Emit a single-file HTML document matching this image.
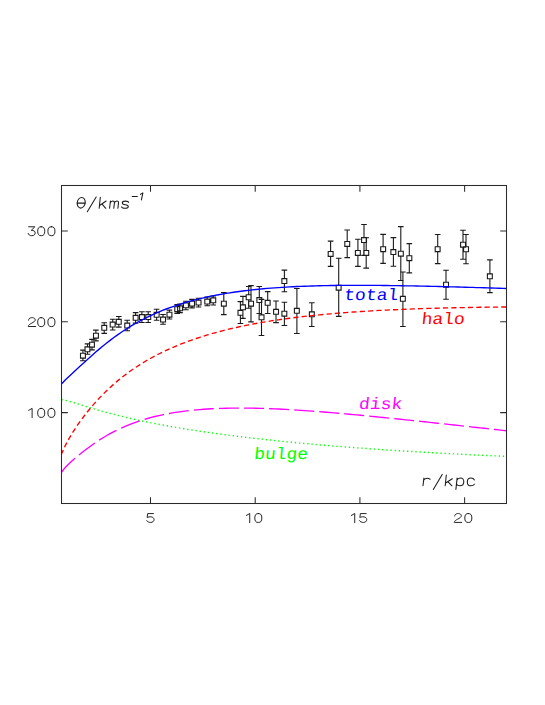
<!DOCTYPE html>
<html><head><meta charset="utf-8"><title>Rotation curve</title>
<style>
html,body{margin:0;padding:0;background:#fff}
body{width:545px;height:705px;overflow:hidden;font-family:"Liberation Sans",sans-serif}
svg{display:block}
.lb{font-family:"Liberation Mono",monospace;font-size:16.5px;stroke-width:0}
</style></head><body>
<svg width="545" height="705" viewBox="0 0 545 705">
<rect width="545" height="705" fill="#fff"/>
<defs><clipPath id="c"><rect x="61.5" y="185.5" width="445" height="318"/></clipPath></defs>
<g fill="none" stroke="#1a1a1a" stroke-width="1.1">
<path d="M82.9,350.1V353.2M82.9,358.1V360.7M80.1,350.1h5.6M80.1,360.7h5.6M80.5,353.2h4.9v4.9h-4.9zM87.5,343.9V346.9M87.5,351.8V354.3M84.7,343.9h5.6M84.7,354.3h5.6M85.0,346.9h4.9v4.9h-4.9zM92.0,339.4V342.2M92.0,347.1V349.9M89.2,339.4h5.6M89.2,349.9h5.6M89.5,342.2h4.9v4.9h-4.9zM95.9,330.1V333.2M95.9,338.1V340.9M93.1,330.1h5.6M93.1,340.9h5.6M93.5,333.2h4.9v4.9h-4.9zM104.2,322.8V325.4M104.2,330.3V333.4M101.4,322.8h5.6M101.4,333.4h5.6M101.8,325.4h4.9v4.9h-4.9zM112.7,319.2V322.1M112.7,326.9V330.0M109.9,319.2h5.6M109.9,330.0h5.6M110.2,322.1h4.9v4.9h-4.9zM118.8,316.5V319.4M118.8,324.2V327.1M116.0,316.5h5.6M116.0,327.1h5.6M116.3,319.4h4.9v4.9h-4.9zM127.2,320.3V323.1M127.2,327.9V330.8M124.4,320.3h5.6M124.4,330.8h5.6M124.8,323.1h4.9v4.9h-4.9zM135.6,312.6V315.4M135.6,320.3V323.1M132.8,312.6h5.6M132.8,323.1h5.6M133.2,315.4h4.9v4.9h-4.9zM141.9,311.7V314.6M141.9,319.4V322.5M139.1,311.7h5.6M139.1,322.5h5.6M139.5,314.6h4.9v4.9h-4.9zM148.2,311.7V314.6M148.2,319.4V322.5M145.4,311.7h5.6M145.4,322.5h5.6M145.8,314.6h4.9v4.9h-4.9zM156.6,309.2V312.4M156.6,317.3V320.3M153.8,309.2h5.6M153.8,320.3h5.6M154.2,312.4h4.9v4.9h-4.9zM163.0,314.5V317.1M163.0,321.9V324.3M160.2,314.5h5.6M160.2,324.3h5.6M160.6,317.1h4.9v4.9h-4.9zM169.4,310.1V312.2M169.4,317.1V319.0M166.6,310.1h5.6M166.6,319.0h5.6M167.0,312.2h4.9v4.9h-4.9zM177.2,304.6V306.7M177.2,311.6V313.4M174.4,304.6h5.6M174.4,313.4h5.6M174.8,306.7h4.9v4.9h-4.9zM180.0,304.0V305.9M180.0,310.8V312.6M177.2,304.0h5.6M177.2,312.6h5.6M177.6,305.9h4.9v4.9h-4.9zM185.9,301.3V302.9M185.9,307.8V309.8M183.1,301.3h5.6M183.1,309.8h5.6M183.5,302.9h4.9v4.9h-4.9zM192.0,299.4V301.2M192.0,306.1V307.9M189.2,299.4h5.6M189.2,307.9h5.6M189.6,301.2h4.9v4.9h-4.9zM198.5,298.2V300.1M198.5,304.9V307.0M195.7,298.2h5.6M195.7,307.0h5.6M196.1,300.1h4.9v4.9h-4.9zM207.2,297.0V299.1M207.2,303.9V305.8M204.4,297.0h5.6M204.4,305.8h5.6M204.8,299.1h4.9v4.9h-4.9zM213.2,296.0V297.9M213.2,302.8V305.0M210.4,296.0h5.6M210.4,305.0h5.6M210.8,297.9h4.9v4.9h-4.9zM223.8,292.6V301.2M223.8,306.1V314.6M221.0,292.6h5.6M221.0,314.6h5.6M221.4,301.2h4.9v4.9h-4.9zM240.4,301.6V310.4M240.4,315.2V323.5M237.6,301.6h5.6M237.6,323.5h5.6M238.0,310.4h4.9v4.9h-4.9zM242.9,296.4V304.9M242.9,309.8V318.4M240.1,296.4h5.6M240.1,318.4h5.6M240.5,304.9h4.9v4.9h-4.9zM248.7,286.5V294.8M248.7,299.6V308.2M245.9,286.5h5.6M245.9,308.2h5.6M246.2,294.8h4.9v4.9h-4.9zM251.0,285.6V301.2M251.0,306.1V321.9M248.2,285.6h5.6M248.2,321.9h5.6M248.6,301.2h4.9v4.9h-4.9zM259.3,286.5V297.6M259.3,302.4V313.5M256.5,286.5h5.6M256.5,313.5h5.6M256.9,297.6h4.9v4.9h-4.9zM261.5,299.4V314.9M261.5,319.8V335.5M258.7,299.4h5.6M258.7,335.5h5.6M259.1,314.9h4.9v4.9h-4.9zM267.7,291.6V300.4M267.7,305.2V313.5M264.9,291.6h5.6M264.9,313.5h5.6M265.2,300.4h4.9v4.9h-4.9zM276.0,301.0V309.4M276.0,314.2V322.6M273.2,301.0h5.6M273.2,322.6h5.6M273.6,309.4h4.9v4.9h-4.9zM284.4,302.3V311.2M284.4,316.1V325.5M281.6,302.3h5.6M281.6,325.5h5.6M281.9,311.2h4.9v4.9h-4.9zM284.4,270.1V278.6M284.4,283.4V291.7M281.6,270.1h5.6M281.6,291.7h5.6M281.9,278.6h4.9v4.9h-4.9zM296.9,288.5V308.4M296.9,313.2V333.5M294.1,288.5h5.6M294.1,333.5h5.6M294.4,308.4h4.9v4.9h-4.9zM311.8,302.7V311.9M311.8,316.8V326.5M309.0,302.7h5.6M309.0,326.5h5.6M309.4,311.9h4.9v4.9h-4.9zM338.7,258.2V285.2M338.7,290.1V316.4M335.9,258.2h5.6M335.9,316.4h5.6M336.2,285.2h4.9v4.9h-4.9zM330.6,241.1V251.5M330.6,256.4V266.4M327.8,241.1h5.6M327.8,266.4h5.6M328.2,251.5h4.9v4.9h-4.9zM347.2,230.0V241.5M347.2,246.3V257.6M344.4,230.0h5.6M344.4,257.6h5.6M344.8,241.5h4.9v4.9h-4.9zM357.9,239.2V250.5M357.9,255.3V266.4M355.1,239.2h5.6M355.1,266.4h5.6M355.4,250.5h4.9v4.9h-4.9zM364.0,224.5V237.6M364.0,242.4V255.4M361.2,224.5h5.6M361.2,255.4h5.6M361.6,237.6h4.9v4.9h-4.9zM366.2,237.8V250.5M366.2,255.3V268.1M363.4,237.8h5.6M363.4,268.1h5.6M363.8,250.5h4.9v4.9h-4.9zM383.1,234.4V246.7M383.1,251.5V263.4M380.3,234.4h5.6M380.3,263.4h5.6M380.7,246.7h4.9v4.9h-4.9zM393.4,237.6V249.6M393.4,254.4V266.3M390.6,237.6h5.6M390.6,266.3h5.6M390.9,249.6h4.9v4.9h-4.9zM400.8,226.6V251.2M400.8,256.1V280.5M398.0,226.6h5.6M398.0,280.5h5.6M398.4,251.2h4.9v4.9h-4.9zM409.3,243.6V255.7M409.3,260.6V272.9M406.5,243.6h5.6M406.5,272.9h5.6M406.9,255.7h4.9v4.9h-4.9zM402.9,272.0V296.4M402.9,301.3V326.5M400.1,272.0h5.6M400.1,326.5h5.6M400.4,296.4h4.9v4.9h-4.9zM437.7,234.5V246.7M437.7,251.5V263.6M434.9,234.5h5.6M434.9,263.6h5.6M435.2,246.7h4.9v4.9h-4.9zM446.0,270.2V282.2M446.0,287.1V299.2M443.2,270.2h5.6M443.2,299.2h5.6M443.6,282.2h4.9v4.9h-4.9zM463.0,230.2V242.2M463.0,247.1V259.3M460.2,230.2h5.6M460.2,259.3h5.6M460.6,242.2h4.9v4.9h-4.9zM466.0,234.5V246.8M466.0,251.6V263.7M463.2,234.5h5.6M463.2,263.7h5.6M463.6,246.8h4.9v4.9h-4.9zM489.9,259.9V273.9M489.9,278.8V292.6M487.1,259.9h5.6M487.1,292.6h5.6M487.4,273.9h4.9v4.9h-4.9z"/>
</g>
<g clip-path="url(#c)" fill="none" stroke-width="1.35">
<path d="M61.50,399.66 L65.24,400.29 L68.98,401.24 L72.72,402.33 L76.46,403.49 L80.20,404.67 L83.94,405.85 L87.68,407.01 L91.42,408.15 L95.16,409.26 L98.89,410.34 L102.63,411.40 L106.37,412.42 L110.11,413.42 L113.85,414.39 L117.59,415.34 L121.33,416.26 L125.07,417.16 L128.81,418.03 L132.55,418.88 L136.29,419.71 L140.03,420.51 L143.77,421.30 L147.51,422.07 L151.25,422.82 L154.99,423.55 L158.73,424.27 L162.47,424.97 L166.21,425.65 L169.95,426.32 L173.68,426.98 L177.42,427.62 L181.16,428.24 L184.90,428.86 L188.64,429.46 L192.38,430.04 L196.12,430.62 L199.86,431.19 L203.60,431.74 L207.34,432.28 L211.08,432.82 L214.82,433.34 L218.56,433.85 L222.30,434.36 L226.04,434.85 L229.78,435.34 L233.52,435.81 L237.26,436.28 L241.00,436.74 L244.74,437.19 L248.47,437.64 L252.21,438.07 L255.95,438.50 L259.69,438.92 L263.43,439.34 L267.17,439.75 L270.91,440.15 L274.65,440.54 L278.39,440.93 L282.13,441.31 L285.87,441.69 L289.61,442.06 L293.35,442.42 L297.09,442.78 L300.83,443.13 L304.57,443.48 L308.31,443.82 L312.05,444.16 L315.79,444.49 L319.53,444.81 L323.26,445.14 L327.00,445.45 L330.74,445.77 L334.48,446.07 L338.22,446.38 L341.96,446.67 L345.70,446.97 L349.44,447.26 L353.18,447.54 L356.92,447.82 L360.66,448.10 L364.40,448.38 L368.14,448.64 L371.88,448.91 L375.62,449.17 L379.36,449.43 L383.10,449.69 L386.84,449.94 L390.58,450.18 L394.32,450.43 L398.05,450.67 L401.79,450.91 L405.53,451.14 L409.27,451.37 L413.01,451.60 L416.75,451.82 L420.49,452.04 L424.23,452.26 L427.97,452.48 L431.71,452.69 L435.45,452.90 L439.19,453.11 L442.93,453.31 L446.67,453.51 L450.41,453.71 L454.15,453.91 L457.89,454.10 L461.63,454.29 L465.37,454.48 L469.11,454.67 L472.84,454.85 L476.58,455.03 L480.32,455.21 L484.06,455.38 L487.80,455.56 L491.54,455.73 L495.28,455.90 L499.02,456.06 L502.76,456.23 L506.50,456.39" stroke="#00ff00" stroke-width="1.4" stroke-dasharray="1.3 2.87" stroke-dashoffset="4.15"/>
<path d="M61.50,472.27 L65.24,467.46 L68.98,463.69 L72.72,460.30 L76.46,457.09 L80.20,454.00 L83.94,451.03 L87.68,448.17 L91.42,445.43 L95.16,442.82 L98.89,440.33 L102.63,437.98 L106.37,435.75 L110.11,433.65 L113.85,431.66 L117.59,429.79 L121.33,428.04 L125.07,426.39 L128.81,424.85 L132.55,423.40 L136.29,422.05 L140.03,420.78 L143.77,419.60 L147.51,418.50 L151.25,417.47 L154.99,416.52 L158.73,415.64 L162.47,414.82 L166.21,414.06 L169.95,413.36 L173.68,412.71 L177.42,412.12 L181.16,411.58 L184.90,411.09 L188.64,410.64 L192.38,410.24 L196.12,409.87 L199.86,409.55 L203.60,409.26 L207.34,409.00 L211.08,408.78 L214.82,408.60 L218.56,408.44 L222.30,408.31 L226.04,408.21 L229.78,408.13 L233.52,408.08 L237.26,408.05 L241.00,408.05 L244.74,408.07 L248.47,408.11 L252.21,408.16 L255.95,408.24 L259.69,408.33 L263.43,408.44 L267.17,408.57 L270.91,408.71 L274.65,408.87 L278.39,409.04 L282.13,409.22 L285.87,409.42 L289.61,409.63 L293.35,409.85 L297.09,410.08 L300.83,410.32 L304.57,410.58 L308.31,410.84 L312.05,411.11 L315.79,411.39 L319.53,411.68 L323.26,411.97 L327.00,412.27 L330.74,412.58 L334.48,412.90 L338.22,413.22 L341.96,413.55 L345.70,413.88 L349.44,414.22 L353.18,414.57 L356.92,414.92 L360.66,415.27 L364.40,415.63 L368.14,415.99 L371.88,416.36 L375.62,416.73 L379.36,417.10 L383.10,417.48 L386.84,417.86 L390.58,418.24 L394.32,418.63 L398.05,419.01 L401.79,419.40 L405.53,419.80 L409.27,420.19 L413.01,420.59 L416.75,420.98 L420.49,421.38 L424.23,421.78 L427.97,422.18 L431.71,422.59 L435.45,422.99 L439.19,423.39 L442.93,423.80 L446.67,424.20 L450.41,424.61 L454.15,425.02 L457.89,425.42 L461.63,425.83 L465.37,426.24 L469.11,426.65 L472.84,427.05 L476.58,427.46 L480.32,427.87 L484.06,428.28 L487.80,428.68 L491.54,429.09 L495.28,429.49 L499.02,429.90 L502.76,430.31 L506.50,430.71" stroke="#ff00ff" stroke-dasharray="20 5.1" stroke-dashoffset="0.53"/>
<path d="M61.50,454.05 L65.24,445.59 L68.98,438.61 L72.72,432.40 L76.46,426.67 L80.20,421.31 L83.94,416.26 L87.68,411.48 L91.42,406.94 L95.16,402.64 L98.89,398.55 L102.63,394.66 L106.37,390.96 L110.11,387.44 L113.85,384.09 L117.59,380.89 L121.33,377.85 L125.07,374.95 L128.81,372.18 L132.55,369.53 L136.29,367.01 L140.03,364.59 L143.77,362.28 L147.51,360.08 L151.25,357.97 L154.99,355.94 L158.73,354.01 L162.47,352.15 L166.21,350.37 L169.95,348.67 L173.68,347.03 L177.42,345.46 L181.16,343.95 L184.90,342.51 L188.64,341.12 L192.38,339.78 L196.12,338.50 L199.86,337.27 L203.60,336.08 L207.34,334.94 L211.08,333.85 L214.82,332.79 L218.56,331.78 L222.30,330.80 L226.04,329.86 L229.78,328.95 L233.52,328.08 L237.26,327.24 L241.00,326.43 L244.74,325.65 L248.47,324.90 L252.21,324.18 L255.95,323.48 L259.69,322.81 L263.43,322.16 L267.17,321.54 L270.91,320.94 L274.65,320.36 L278.39,319.80 L282.13,319.26 L285.87,318.74 L289.61,318.24 L293.35,317.76 L297.09,317.29 L300.83,316.85 L304.57,316.41 L308.31,316.00 L312.05,315.60 L315.79,315.21 L319.53,314.84 L323.26,314.48 L327.00,314.13 L330.74,313.80 L334.48,313.48 L338.22,313.17 L341.96,312.87 L345.70,312.58 L349.44,312.31 L353.18,312.04 L356.92,311.79 L360.66,311.54 L364.40,311.30 L368.14,311.08 L371.88,310.86 L375.62,310.65 L379.36,310.44 L383.10,310.25 L386.84,310.06 L390.58,309.88 L394.32,309.71 L398.05,309.55 L401.79,309.39 L405.53,309.24 L409.27,309.09 L413.01,308.95 L416.75,308.82 L420.49,308.69 L424.23,308.57 L427.97,308.45 L431.71,308.34 L435.45,308.23 L439.19,308.13 L442.93,308.04 L446.67,307.94 L450.41,307.85 L454.15,307.77 L457.89,307.69 L461.63,307.62 L465.37,307.54 L469.11,307.48 L472.84,307.41 L476.58,307.35 L480.32,307.29 L484.06,307.24 L487.80,307.19 L491.54,307.14 L495.28,307.10 L499.02,307.06 L502.76,307.02 L506.50,306.98" stroke="#ff0000" stroke-dasharray="5.2 3.13" stroke-dashoffset="0.85"/>
<path d="M61.50,383.96 L65.24,379.97 L68.98,376.41 L72.72,372.96 L76.46,369.52 L80.20,366.08 L83.94,362.64 L87.68,359.24 L91.42,355.88 L95.16,352.59 L98.89,349.38 L102.63,346.27 L106.37,343.25 L110.11,340.35 L113.85,337.55 L117.59,334.85 L121.33,332.27 L125.07,329.80 L128.81,327.44 L132.55,325.18 L136.29,323.02 L140.03,320.95 L143.77,318.99 L147.51,317.12 L151.25,315.33 L154.99,313.63 L158.73,312.01 L162.47,310.47 L166.21,309.00 L169.95,307.61 L173.68,306.28 L177.42,305.02 L181.16,303.82 L184.90,302.68 L188.64,301.60 L192.38,300.57 L196.12,299.60 L199.86,298.67 L203.60,297.80 L207.34,296.96 L211.08,296.18 L214.82,295.43 L218.56,294.72 L222.30,294.05 L226.04,293.42 L229.78,292.82 L233.52,292.26 L237.26,291.73 L241.00,291.22 L244.74,290.75 L248.47,290.30 L252.21,289.88 L255.95,289.49 L259.69,289.12 L263.43,288.77 L267.17,288.45 L270.91,288.14 L274.65,287.86 L278.39,287.60 L282.13,287.35 L285.87,287.12 L289.61,286.91 L293.35,286.72 L297.09,286.54 L300.83,286.38 L304.57,286.23 L308.31,286.09 L312.05,285.97 L315.79,285.86 L319.53,285.76 L323.26,285.67 L327.00,285.60 L330.74,285.53 L334.48,285.47 L338.22,285.43 L341.96,285.39 L345.70,285.36 L349.44,285.34 L353.18,285.33 L356.92,285.32 L360.66,285.32 L364.40,285.33 L368.14,285.35 L371.88,285.37 L375.62,285.40 L379.36,285.43 L383.10,285.47 L386.84,285.51 L390.58,285.56 L394.32,285.61 L398.05,285.67 L401.79,285.73 L405.53,285.80 L409.27,285.87 L413.01,285.94 L416.75,286.02 L420.49,286.10 L424.23,286.18 L427.97,286.27 L431.71,286.35 L435.45,286.44 L439.19,286.54 L442.93,286.63 L446.67,286.73 L450.41,286.83 L454.15,286.93 L457.89,287.03 L461.63,287.14 L465.37,287.24 L469.11,287.35 L472.84,287.45 L476.58,287.56 L480.32,287.67 L484.06,287.78 L487.80,287.90 L491.54,288.01 L495.28,288.12 L499.02,288.23 L502.76,288.35 L506.50,288.46" stroke="#0000ff"/>
</g>
<g fill="none" stroke="#2b2b2b" stroke-width="1.05">
<rect x="61.5" y="185.5" width="445" height="318"/>
<path d="M150.50,503.5v-6.3M150.50,185.5v6.3M255.21,503.5v-6.3M255.21,185.5v6.3M359.91,503.5v-6.3M359.91,185.5v6.3M464.62,503.5v-6.3M464.62,185.5v6.3M61.5,412.64h6.3M506.5,412.64h-6.3M61.5,321.79h6.3M506.5,321.79h-6.3M61.5,230.93h6.3M506.5,230.93h-6.3"/>
</g>
<g fill="none" stroke="#1a1a1a" stroke-width="1" stroke-linecap="round" stroke-linejoin="round">
<path transform="translate(27.9,226.5) scale(0.98,0.94)" d="M0.7,0.3H7.1L3.4,4.1C8.6,3.6 8.8,9.8 3.9,9.8C1.7,9.8 0.6,8.7 0.3,7.4"/>
<path transform="translate(37.3,226.5) scale(0.98,0.94)" d="M4,0.2C1.4,0.2 0.4,1.8 0.4,5C0.4,8.2 1.4,9.8 4,9.8C6.6,9.8 7.6,8.2 7.6,5C7.6,1.8 6.6,0.2 4,0.2z"/>
<path transform="translate(47.5,226.5) scale(0.98,0.94)" d="M4,0.2C1.4,0.2 0.4,1.8 0.4,5C0.4,8.2 1.4,9.8 4,9.8C6.6,9.8 7.6,8.2 7.6,5C7.6,1.8 6.6,0.2 4,0.2z"/>
<path transform="translate(27.9,317.4) scale(0.98,0.94)" d="M0.6,2.9C0.6,-0.7 7.5,-0.7 7.5,2.7C7.5,5.6 0.3,6.6 0.3,9.7H7.9"/>
<path transform="translate(37.3,317.4) scale(0.98,0.94)" d="M4,0.2C1.4,0.2 0.4,1.8 0.4,5C0.4,8.2 1.4,9.8 4,9.8C6.6,9.8 7.6,8.2 7.6,5C7.6,1.8 6.6,0.2 4,0.2z"/>
<path transform="translate(47.5,317.4) scale(0.98,0.94)" d="M4,0.2C1.4,0.2 0.4,1.8 0.4,5C0.4,8.2 1.4,9.8 4,9.8C6.6,9.8 7.6,8.2 7.6,5C7.6,1.8 6.6,0.2 4,0.2z"/>
<path transform="translate(28.3,408.2) scale(0.98,0.94)" d="M0.4,2.3L3.9,0.2V10"/>
<path transform="translate(37.3,408.2) scale(0.98,0.94)" d="M4,0.2C1.4,0.2 0.4,1.8 0.4,5C0.4,8.2 1.4,9.8 4,9.8C6.6,9.8 7.6,8.2 7.6,5C7.6,1.8 6.6,0.2 4,0.2z"/>
<path transform="translate(47.5,408.2) scale(0.98,0.94)" d="M4,0.2C1.4,0.2 0.4,1.8 0.4,5C0.4,8.2 1.4,9.8 4,9.8C6.6,9.8 7.6,8.2 7.6,5C7.6,1.8 6.6,0.2 4,0.2z"/>
<path transform="translate(146.4,513.3) scale(0.98,0.94)" d="M7.2,0.3H1.3L0.8,4.6C2.6,3.2 7.8,3.2 7.8,6.7C7.8,10.6 1.6,10.6 0.3,7.8"/>
<path transform="translate(245.9,513.3) scale(0.98,0.94)" d="M0.4,2.3L3.9,0.2V10"/>
<path transform="translate(254.4,513.3) scale(0.98,0.94)" d="M4,0.2C1.4,0.2 0.4,1.8 0.4,5C0.4,8.2 1.4,9.8 4,9.8C6.6,9.8 7.6,8.2 7.6,5C7.6,1.8 6.6,0.2 4,0.2z"/>
<path transform="translate(350.9,513.3) scale(0.98,0.94)" d="M0.4,2.3L3.9,0.2V10"/>
<path transform="translate(359.1,513.3) scale(0.98,0.94)" d="M7.2,0.3H1.3L0.8,4.6C2.6,3.2 7.8,3.2 7.8,6.7C7.8,10.6 1.6,10.6 0.3,7.8"/>
<path transform="translate(454.0,513.3) scale(0.98,0.94)" d="M0.6,2.9C0.6,-0.7 7.5,-0.7 7.5,2.7C7.5,5.6 0.3,6.6 0.3,9.7H7.9"/>
<path transform="translate(464.4,513.3) scale(0.98,0.94)" d="M4,0.2C1.4,0.2 0.4,1.8 0.4,5C0.4,8.2 1.4,9.8 4,9.8C6.6,9.8 7.6,8.2 7.6,5C7.6,1.8 6.6,0.2 4,0.2z"/>
</g>
<g fill="none" stroke="#1a1a1a" stroke-width="1.05" stroke-linecap="round" stroke-linejoin="round">
<g transform="translate(81.2,202.8) skewX(-5)"><ellipse rx="4" ry="5.3"/><path d="M-4,0.3H4"/></g>
<path d="M87.3,211.7L96.2,197M100.3,197.3L99.2,208.3M106.1,201L100,205.3M101.9,203.9L105.8,208.3"/>
<path d="M110.4,201L109.6,208.3M110.2,203C111,200.6 114.6,200.2 114.4,203L113.8,208.3M114.3,203C115.2,200.6 118.7,200.2 118.5,203L117.9,208.3"/>
<path d="M128.6,202.3C128.4,201.2 127,201.1 125.5,201.1C123.5,201.1 122.3,201.6 122.3,202.9C122.3,204.2 123.5,204.5 125.2,204.7C127,204.9 128.3,205.3 128.3,206.5C128.3,207.9 126.8,208.3 125,208.3C123,208.3 121.8,207.9 121.6,206.9"/>
<path d="M132.2,196.5H137.3M140.4,194.4L142.9,192.9L141.4,199.9"/>
<path d="M423.9,478.1L423,485.8M423.7,480.4C424.5,478.4 427.5,477.6 430.1,479.2M433.3,489.4L442.2,474.4M446.3,475L445.2,485.8M452.3,478.7L446.1,482.8M447.9,481.6L451.9,485.8"/>
<path d="M457.1,478.1L455.9,489.4M456.9,480.3C457.6,478.6 459.2,477.9 460.4,477.9C462.6,477.9 463.9,479.6 463.8,481.8C463.7,484.2 462.2,485.8 460,485.8C458.4,485.8 457,485.1 456.4,483.6"/>
<path d="M474.4,479.9C473.8,478.7 472.6,478 471,478C468.8,478 467.3,479.7 467.3,481.9C467.3,484.2 468.7,485.8 470.8,485.8C472.5,485.8 473.8,485.2 474.4,484.3"/>
</g>
<g class="lb">
<text transform="translate(343.8,299.8) scale(1.09,1) skewX(-5.5)" fill="#0000ff" stroke="#0000ff">total</text>
<text transform="translate(421.2,323.7) scale(1.09,1) skewX(-5.5)" fill="#ff0000" stroke="#ff0000">halo</text>
<text transform="translate(358.6,408.7) scale(1.09,1) skewX(-5.5)" fill="#ff00ff" stroke="#ff00ff">disk</text>
<text transform="translate(253.7,458.6) scale(1.09,1) skewX(-5.5)" fill="#00ff00" stroke="#00ff00">bulge</text>
</g>
</svg>
</body></html>
